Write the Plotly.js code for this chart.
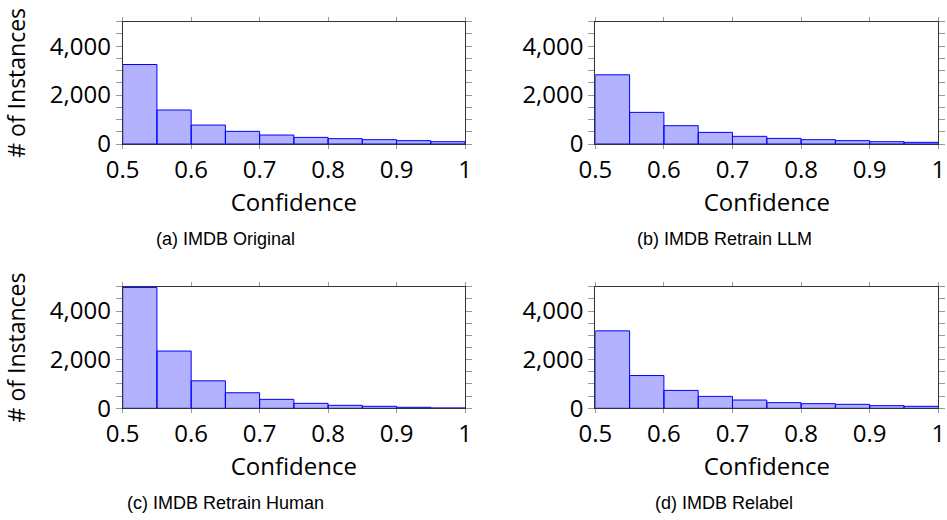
<!DOCTYPE html>
<html>
<head>
<meta charset="utf-8">
<script src="https://cdn.plot.ly/plotly-3.0.1.min.js"></script>
<style>html,body{margin:0;padding:0;background:#fff;}#chart{width:947px;height:520px;}</style>
</head>
<body>
<div id="chart"></div>
<script>
// Bin starts (confidence), bin width 0.05
const binStarts = [0.5, 0.55, 0.6, 0.65, 0.7, 0.75, 0.8, 0.85, 0.9, 0.95];
const xTickVals = [0.5, 0.6, 0.7, 0.8, 0.9, 1];
const xTickText = ["0.5", "0.6", "0.7", "0.8", "0.9", "1"];
const yTickVals = [0, 2000, 4000];
const yTickText = ["0", "2,000", "4,000"];

const imdbOriginal = [3250, 1390, 775, 517, 367, 270, 218, 177, 136, 95];
const imdbRetrainLLM = [2830, 1293, 748, 476, 313, 231, 177, 136, 95, 68];
const imdbRetrainHuman = [4970, 2354, 1129, 639, 367, 204, 122, 82, 41, 14];
const imdbRelabel = [3184, 1347, 735, 490, 340, 231, 190, 163, 109, 82];

const captions = ["(a) IMDB Original", "(b) IMDB Retrain LLM", "(c) IMDB Retrain Human", "(d) IMDB Relabel"];
const seriesList = [imdbOriginal, imdbRetrainLLM, imdbRetrainHuman, imdbRelabel];

const W = 947, H = 520;
const xDomains = [[122.7, 465], [595.3, 938.3]];
const yDomains = [[21.7, 144], [286.7, 408.3]];
const captionX = [225, 724];
const captionY = [239, 503];

const font = "Open Sans, DejaVu Sans, sans-serif";
const traces = [];
const layout = {
  width: W, height: H,
  margin: {l: 0, r: 0, t: 0, b: 0},
  paper_bgcolor: "#fff", plot_bgcolor: "#fff",
  showlegend: false,
  font: {family: font, color: "#000"},
  annotations: []
};

seriesList.forEach((vals, i) => {
  const row = Math.floor(i / 2), col = i % 2;
  const sfx = i === 0 ? "" : String(i + 1);
  traces.push({
    type: "bar",
    x: binStarts,
    y: vals,
    width: binStarts.map(() => 0.05),
    offset: 0,
    marker: {color: "rgba(0,0,255,0.3)", line: {color: "#0000ff", width: 1}},
    xaxis: "x" + sfx, yaxis: "y" + sfx,
    hoverinfo: "skip"
  });
  const xd = xDomains[col], yd = yDomains[row];
  layout["xaxis" + sfx] = {
    domain: [xd[0] / W, xd[1] / W],
    anchor: "y" + sfx,
    range: [0.5, 1],
    tickvals: xTickVals, ticktext: xTickText,
    ticks: "outside", ticklen: 4, tickcolor: "#999",
    showline: true, linecolor: "#333", linewidth: 1, mirror: "ticks",
    showgrid: false, zeroline: false,
    tickfont: {size: 24, family: font, color: "#000"},
    title: {text: "Confidence", font: {size: 24, family: font, color: "#000"}, standoff: 9},
    fixedrange: true
  };
  layout["yaxis" + sfx] = {
    domain: [1 - yd[1] / H, 1 - yd[0] / H],
    anchor: "x" + sfx,
    range: [0, 5000],
    tickvals: yTickVals, ticktext: yTickText,
    ticks: "outside", ticklen: 6, tickcolor: "#999",
    minor: {dtick: 500, tick0: 0, ticks: "outside", ticklen: 6, tickcolor: "#999", showgrid: false},
    showline: true, linecolor: "#333", linewidth: 1, mirror: "ticks",
    showgrid: false, zeroline: false,
    tickfont: {size: 24, family: font, color: "#000"},
    title: col === 0 ? {text: "# of Instances", font: {size: 23, family: font, color: "#000"}, standoff: 21} : {text: ""},
    fixedrange: true
  };
  layout.annotations.push({
    text: captions[i],
    xref: "paper", yref: "paper",
    x: captionX[col] / W,
    y: 1 - captionY[row] / H,
    xanchor: "center", yanchor: "middle",
    showarrow: false,
    font: {size: 18, family: "Liberation Sans, Arial, sans-serif", color: "#000"}
  });
});

Plotly.newPlot("chart", traces, layout, {staticPlot: true, displayModeBar: false});
</script>
</body>
</html>
